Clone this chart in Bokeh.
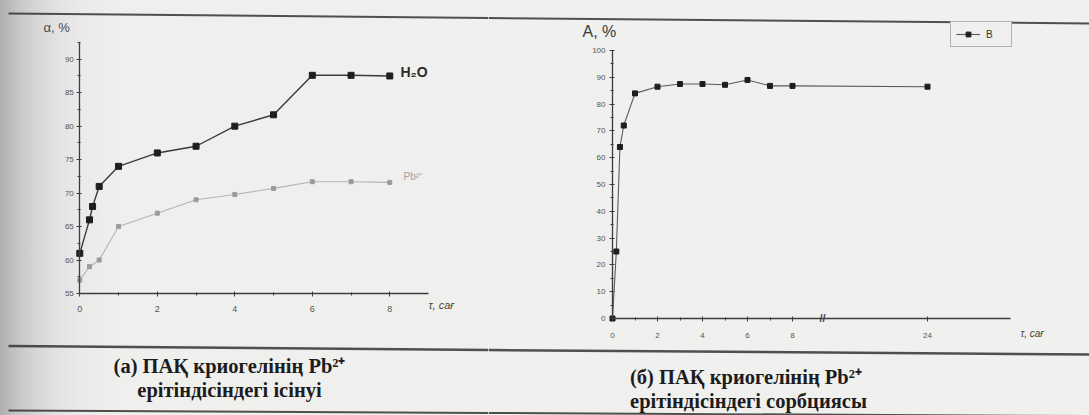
from bokeh.plotting import figure
from bokeh.layouts import row
from bokeh.models import Range1d, FixedTicker, Label, Legend, LegendItem
from bokeh.core.properties import value
from bokeh.embed import file_html
from bokeh.resources import INLINE

# ---------------- data ----------------
t_h2o = [0, 0.25, 0.33, 0.5, 1, 2, 3, 4, 5, 6, 7, 8]
a_h2o = [61, 66, 68, 71, 74, 76, 77, 80, 81.7, 87.6, 87.6, 87.5]
t_pb = [0, 0.25, 0.5, 1, 2, 3, 4, 5, 6, 7, 8]
a_pb = [57, 59, 60, 65, 67, 69, 69.8, 70.7, 71.7, 71.7, 71.6]

t_sorb = [0, 0.17, 0.33, 0.5, 1, 2, 3, 4, 5, 6, 7, 8, 24]
a_sorb = [0, 25, 64, 72, 84, 86.5, 87.5, 87.5, 87.2, 89, 86.8, 86.8, 86.5]

left_xticks = [0, 2, 4, 6, 8]
left_yticks = [55, 60, 65, 70, 75, 80, 85, 90]
right_xticks = [0, 2, 4, 6, 8, 24]
right_yticks = [0, 10, 20, 30, 40, 50, 60, 70, 80, 90, 100]

caption_a = ["(а) ПАҚ криогелінің Pb²⁺", "ерітіндісіндегі ісінуі"]
caption_b = ["(б) ПАҚ криогелінің  Pb²⁺", "ерітіндісіндегі сорбциясы"]

SANS = "Liberation Sans"
SERIF = value("Liberation Serif")
H = 415
W1 = 488

# broken time axis: hours after 8 are compressed
BREAK_K = 0.375
def tmap(t):
    return t if t <= 8 else 8 + (t - 8) * BREAK_K

# page-pixel helpers for decorations (rules, captions) of each panel
def fx1(px): return (px - 79.3) / 38.75
def fy1(py): return 55 + (293 - py) / 6.6933
def fx2(px): return (px - 612) / 22.5
def fy2(py): return (318 - py) / 2.68

def style_axes(p, standoff_x):
    for ax in (p.xaxis[0], p.yaxis[0]):
        ax.axis_line_color = "#3c3c3c"
        ax.axis_line_width = 1.3
        ax.major_tick_line_color = "#3c3c3c"
        ax.minor_tick_line_color = "#3c3c3c"
        ax.major_tick_in = 3
        ax.major_tick_out = 2
        ax.minor_tick_in = 2
        ax.minor_tick_out = 1
        ax.major_label_text_font = SANS
        ax.major_label_text_font_size = "8px"
        ax.major_label_text_color = "#555555"
    p.yaxis.major_tick_in = 2
    p.yaxis.major_tick_out = 3
    p.yaxis.minor_tick_in = 1
    p.yaxis.minor_tick_out = 2
    p.yaxis.major_label_standoff = 3
    p.xaxis.major_label_standoff = standoff_x
    p.grid.visible = False

def base_fig(w, xr, yr):
    return figure(width=w, height=H, x_range=xr, y_range=yr, x_axis_location="above",
                  output_backend="svg", toolbar_location=None, min_border=0,
                  background_fill_alpha=0, border_fill_alpha=0, outline_line_color=None)

# ---------------- left plot ----------------
p1 = base_fig(W1, Range1d(fx1(0), fx1(W1)), Range1d(fy1(H), fy1(0)))
style_axes(p1, -20)
p1.xaxis.fixed_location = 55
p1.xaxis.bounds = (0, 9)
p1.yaxis.fixed_location = 0
p1.yaxis.bounds = (55, 92.5)
p1.xaxis.ticker = FixedTicker(ticks=left_xticks, minor_ticks=[1, 3, 5, 7])
p1.yaxis.ticker = FixedTicker(ticks=left_yticks, minor_ticks=[57.5, 62.5, 67.5, 72.5, 77.5, 82.5, 87.5, 92.5])
p1.xaxis.major_label_text_font_size = "9px"

p1.line(t_pb, a_pb, line_color="#b4b4b4", line_width=1.1)
p1.scatter(t_pb, a_pb, marker="square", size=4, color="#9a9a9a")
p1.line(t_h2o, a_h2o, line_color="#3a3a3a", line_width=1.4)
p1.scatter(t_h2o, a_h2o, marker="square", size=6, color="#1e1e1e")

p1.add_layout(Label(x=fx1(400), y=fy1(71.5), text="H₂O", text_font=SANS, text_font_size="14px",
                    text_font_style="bold", text_color="#2a2a2a", text_baseline="middle"))
p1.add_layout(Label(x=fx1(403), y=fy1(176), text="Pb²⁺", text_font=SANS, text_font_size="10px",
                    text_color="#a0a0a0", text_baseline="middle"))
p1.add_layout(Label(x=fx1(43), y=fy1(27), text="α, %", text_font=SANS, text_font_size="13px",
                    text_color="#4a4a4a", text_baseline="middle"))
p1.add_layout(Label(x=fx1(428), y=fy1(304), text="τ, сағ", text_font=SANS, text_font_size="11px",
                    text_font_style="italic", text_color="#444444", text_baseline="middle"))

# rules of the scanned page (left half)
p1.segment(x0=[fx1(8)] * 3, y0=[fy1(13), fy1(345.5), fy1(410)],
           x1=[fx1(W1)] * 3, y1=[fy1(17.5), fy1(349.5), fy1(412.5)],
           line_color="#333333", line_width=[2, 2.5, 2], line_alpha=0.85)
p1.text(x=[fx1(229)] * 2, y=[fy1(365), fy1(389)], text=caption_a, text_align="center",
        text_baseline="middle", text_font=SERIF, text_font_style="bold",
        text_font_size="20.5px", text_color="#1c1c1c")

# ---------------- right plot ----------------
u_sorb = [tmap(t) for t in t_sorb]
u_ticks = [tmap(t) for t in right_xticks]

p2 = base_fig(1089 - W1, Range1d(fx2(W1), fx2(1089)), Range1d(fy2(H), fy2(0)))
style_axes(p2, -21)
p2.yaxis.major_label_standoff = 4
p2.xaxis.fixed_location = 0
p2.xaxis.bounds = (0, fx2(1010))
p2.yaxis.fixed_location = 0
p2.yaxis.bounds = (0, 100)
p2.xaxis.ticker = FixedTicker(ticks=u_ticks, minor_ticks=[1, 3, 5, 7])
p2.xaxis.major_label_overrides = {tmap(24): "24"}
p2.yaxis.ticker = FixedTicker(ticks=right_yticks, minor_ticks=[5, 15, 25, 35, 45, 55, 65, 75, 85, 95])

r_line = p2.line(u_sorb, a_sorb, line_color="#5a5a5a", line_width=1.1)
r_pts = p2.scatter(u_sorb, a_sorb, marker="square", size=5, color="#1e1e1e")

p2.add_layout(Label(x=fx2(822), y=0.3, text="//", text_font=SANS, text_font_size="11px",
                    text_font_style="bold", text_color="#444444", text_baseline="middle",
                    text_align="center"))
p2.add_layout(Label(x=fx2(582), y=fy2(31), text="A, %", text_font=SANS, text_font_size="16px",
                    text_color="#3a3a3a", text_baseline="middle"))
p2.add_layout(Label(x=fx2(1020), y=fy2(333), text="τ, сағ", text_font=SANS, text_font_size="10px",
                    text_font_style="italic", text_color="#444444", text_baseline="middle"))

legend = Legend(items=[LegendItem(label="B", renderers=[r_line, r_pts])],
                location=(950 - W1, H - 47),
                label_text_font=SANS, label_text_font_size="10px",
                label_text_color="#333333", glyph_width=24, glyph_height=12, label_height=14,
                padding=5, margin=0, spacing=0, label_standoff=6,
                border_line_color="#777777", border_line_width=1,
                background_fill_color="#efefed", background_fill_alpha=1)
p2.add_layout(legend, "center")

p2.segment(x0=[fx2(W1)] * 3, y0=[fy2(17.5), fy2(349.5), fy2(412.5)],
           x1=[fx2(1089)] * 3, y1=[fy2(23), fy2(354), fy2(415.5)],
           line_color="#333333", line_width=[2, 2.5, 2], line_alpha=0.85)
p2.text(x=[fx2(748)] * 2, y=[fy2(376), fy2(400)], text=caption_b, text_align="center",
        text_baseline="middle", text_font=SERIF, text_font_style="bold",
        text_font_size="20.5px", text_color="#1c1c1c")

page = row(p1, p2, spacing=0, styles={
    "background": "linear-gradient(to right, #b0b0b0 0px, #c6c6c6 18px, #d6d6d6 36px, "
                  "#e2e2e2 56px, #eaeaea 80px, #efefed 120px, #f0f0ee 1089px)"})
open("out.html", "w").write(file_html(page, INLINE))
